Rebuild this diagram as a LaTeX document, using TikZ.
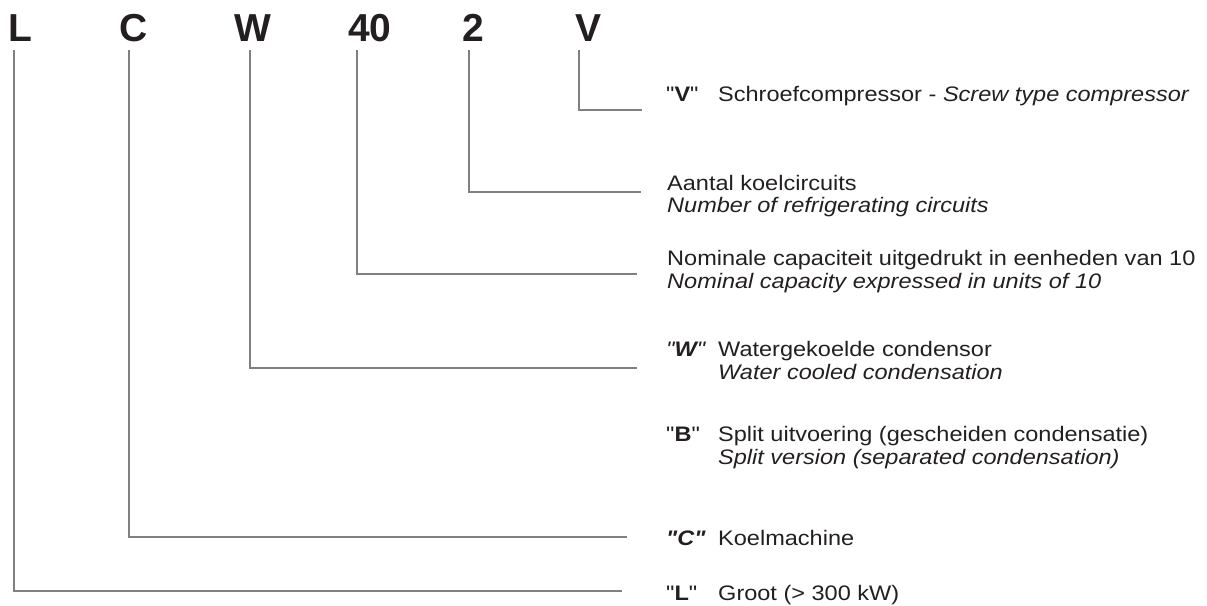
\documentclass[tikz,border=0pt]{standalone}
\usepackage{fontspec}
\setmainfont{Liberation Sans}[FakeStretch=1.12]
\newfontfamily\plainq{Liberation Sans}[FakeStretch=1.12]
\newfontfamily\titlefont{Liberation Sans}
\newcommand{\dq}{{\plainq\symbol{34}}}
\definecolor{ink}{HTML}{231F20}
\definecolor{wire}{HTML}{808080}
\begin{document}
\begin{tikzpicture}[x=1pt,y=-1pt,
  code/.style={font=\titlefont\fontsize{39}{39}\selectfont\bfseries, text=ink, inner sep=0pt, anchor=base},
  lbl/.style={font=\fontsize{21}{24}\selectfont, text=ink, inner sep=0pt, anchor=base west},
  conn/.style={draw=wire, line width=2pt}]
\useasboundingbox (0,0) rectangle (1207,605);
% code letters
\node[code] (cL) at (20,41) {L};
\node[code] (cC) at (134,41) {C};
\node[code] (cW) at (253,41) {W};
\node[code] (c40) at (370,41) {40};
\node[code] (c2) at (473,41) {2};
\node[code] (cV) at (588,41) {V};
% tick starts
\coordinate (tL) at (14,50);
\coordinate (tC) at (129,50);
\coordinate (tW) at (250,50);
\coordinate (t40) at (357,50);
\coordinate (t2) at (469,50);
\coordinate (tV) at (579,50);
% line ends
\coordinate (eV) at (642,110);
\coordinate (e2) at (641,192);
\coordinate (e40) at (637,274);
\coordinate (eW) at (637,368);
\coordinate (eC) at (627,537);
\coordinate (eL) at (622,591);
% connectors
\draw[conn] (tV) |- (eV);
\draw[conn] (t2) |- (e2);
\draw[conn] (t40) |- (e40);
\draw[conn] (tW) |- (eW);
\draw[conn] (tC) |- (eC);
\draw[conn] (tL) |- (eL);
% labels
\node[lbl] (lV) at (666,101) {\makebox[52pt][l]{\dq\textbf{V}\dq}Schroefcompressor - \textit{Screw type compressor}};
\node[lbl] (l2a) at (667,190) {Aantal koelcircuits};
\node[lbl] (l2b) at (667,212) {\textit{Number of refrigerating circuits}};
\node[lbl] (l40a) at (667,265) {Nominale capaciteit uitgedrukt in eenheden van 10};
\node[lbl] (l40b) at (667,288) {\textit{Nominal capacity expressed in units of 10}};
\node[lbl] (lWa) at (666,356) {\makebox[52pt][l]{\textit{\dq\textbf{W}\dq}}Watergekoelde condensor};
\node[lbl] (lWb) at (718,379) {\textit{Water cooled condensation}};
\node[lbl] (lBa) at (666,441) {\makebox[52pt][l]{\dq\textbf{B}\dq}Split uitvoering (gescheiden condensatie)};
\node[lbl] (lBb) at (718,464) {\textit{Split version (separated condensation)}};
\node[lbl] (lC) at (666,545) {\makebox[52pt][l]{\textbf{\textit{\dq C\dq}}}Koelmachine};
\node[lbl] (lL) at (666,600) {\makebox[52pt][l]{\dq\textbf{L}\dq}Groot (> 300 kW)};
\end{tikzpicture}
\end{document}
